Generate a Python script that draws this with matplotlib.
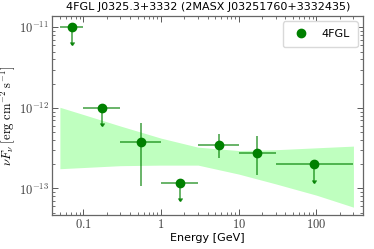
import numpy as np
import matplotlib
matplotlib.use("Agg")
import matplotlib.pyplot as plt
import matplotlib.ticker as mticker

plt.rcParams['mathtext.fontset'] = 'cm'
plt.rcParams['font.family'] = 'DejaVu Sans'

# SED points (energy in GeV, nuFnu in erg cm-2 s-1)
E = [0.071, 0.176, 0.55, 1.74, 5.51, 17.3, 93.7]
E_lo = [0.05, 0.1, 0.3, 1.0, 3.0, 10.0, 30.0]
E_hi = [0.1, 0.3, 1.0, 3.0, 10.0, 30.0, 300.0]
flux = [1.01e-11, 1.0e-12, 3.76e-13, 1.18e-13, 3.49e-13, 2.75e-13, 2.0e-13]
flux_lo = [6.1e-12, 5.9e-13, 1.07e-13, 6.95e-14, 2.4e-13, 1.48e-13, 1.16e-13]
flux_hi = [1.01e-11, 1.0e-12, 6.55e-13, 1.18e-13, 4.69e-13, 4.55e-13, 2.0e-13]
is_ul = [True, True, False, True, False, False, True]

# butterfly of the spectral model
band_E = [0.05, 0.1, 0.3, 1.0, 3.0, 10.0, 30.0, 100.0, 300.0]
band_hi = [1.02e-12, 8.3e-13, 5.97e-13, 4.22e-13, 3.26e-13, 2.96e-13, 3.03e-13, 3.2e-13, 3.36e-13]
band_lo = [1.76e-13, 1.82e-13, 1.92e-13, 1.95e-13, 1.95e-13, 1.51e-13, 1.14e-13, 8.26e-14, 5.86e-14]

xticks = [0.1, 1, 10, 100]
yticks = [1e-13, 1e-12, 1e-11]
title = "4FGL J0325.3+3332 (2MASX J03251760+3332435)"

E = np.array(E); flux = np.array(flux); is_ul = np.array(is_ul)
flux_lo = np.array(flux_lo)
xerr = np.array([E - np.array(E_lo), np.array(E_hi) - E])
yerr = np.array([flux - flux_lo, np.array(flux_hi) - flux])

fig = plt.figure(figsize=(3.74, 2.49), dpi=100)
ax = fig.add_axes([0.140, 0.137, 0.831, 0.799])

ax.fill_between(band_E, band_lo, band_hi, color='lime', alpha=0.25, lw=0)

ax.errorbar(E, flux, xerr=xerr, yerr=yerr, fmt='none',
            ecolor='green', alpha=0.75, elinewidth=1.1, capsize=0)
# small arrow heads for the upper limits
ax.plot(E[is_ul], flux_lo[is_ul], marker=7, ls='none', color='green',
        alpha=0.8, ms=3)
ax.plot(E, flux, 'o', color='green', ms=6, label='4FGL', zorder=5)

ax.set_xscale('log')
ax.set_yscale('log')
ax.set_xlim(0.04, 400)
ax.set_ylim(4.7e-14, 1.39e-11)
ax.set_xticks(xticks)
ax.set_yticks(yticks)

ax.xaxis.set_major_formatter(mticker.FuncFormatter(lambda v, p: f'${v:g}$'))
ax.yaxis.set_major_formatter(mticker.FuncFormatter(
    lambda v, p: r'$10^{%d}$' % int(round(np.log10(v)))))
ax.xaxis.set_minor_formatter(mticker.NullFormatter())
ax.yaxis.set_minor_formatter(mticker.NullFormatter())
ax.tick_params(which='both', direction='in', top=True, right=True,
               labelsize=9, colors='0.35', labelcolor='0.25')
ax.tick_params(which='major', length=4, width=0.7, pad=2.5)
ax.tick_params(which='minor', length=2, width=0.6)
for s in ax.spines.values():
    s.set_color('0.4')
    s.set_linewidth(0.9)

ax.set_xlabel('Energy [GeV]', fontsize=8, labelpad=1)
ax.set_ylabel(r'$\nu F_\nu\ [\mathrm{erg\ cm^{-2}\ s^{-1}}]$', fontsize=9, labelpad=1)
ax.set_title(title, fontsize=8, pad=4)

ax.legend(loc='upper right', fontsize=8, numpoints=1, borderpad=0.7,
          framealpha=1, edgecolor='0.85')

fig.savefig('out.png', dpi=100)
